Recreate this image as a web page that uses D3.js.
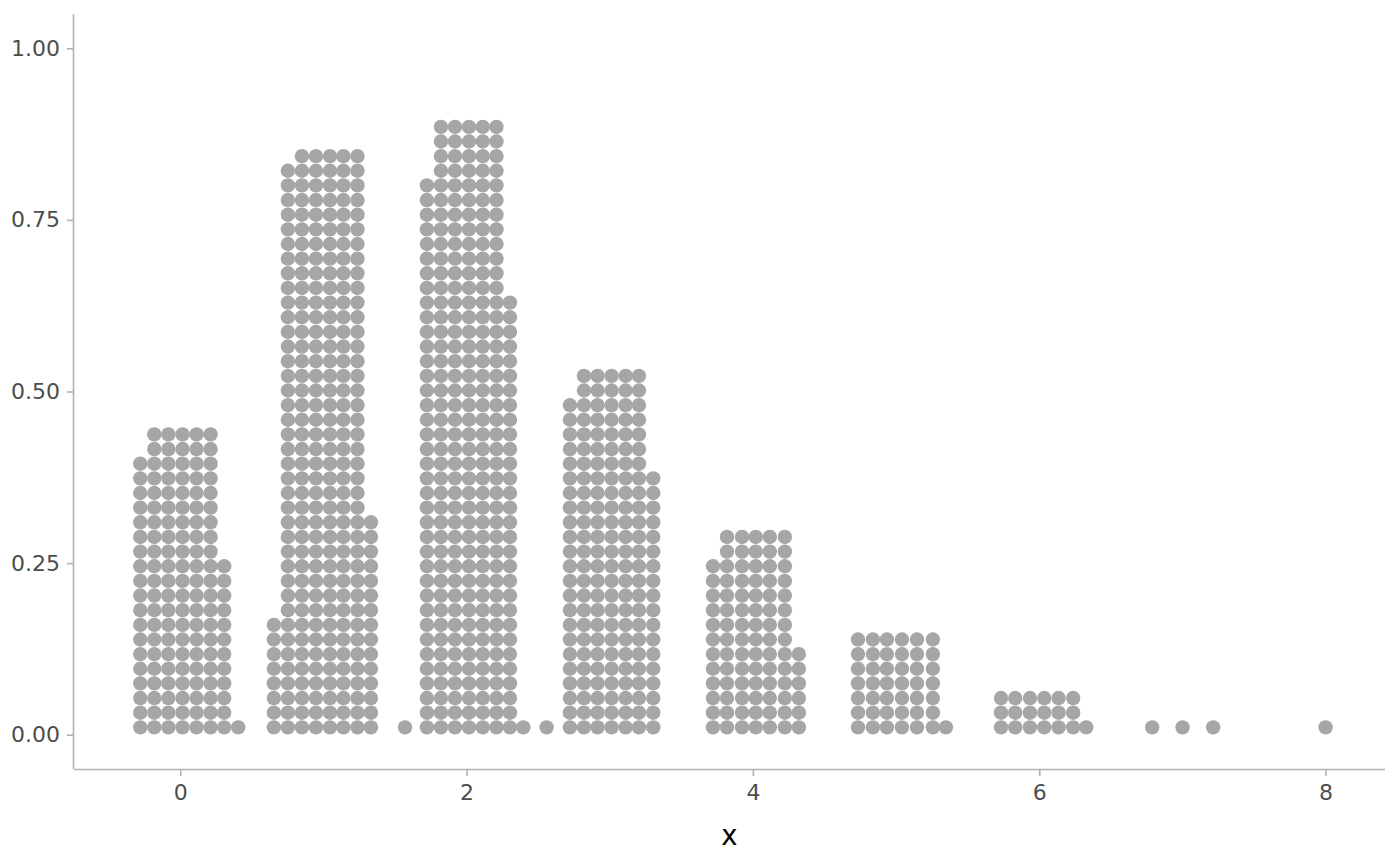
<!DOCTYPE html>
<html>
<head>
<meta charset="utf-8">
<script src="https://cdn.jsdelivr.net/npm/d3@7"></script>
<style>
  body { margin: 0; background: #fff; }
</style>
</head>
<body>
<div class="dots_chart"></div>
<script>
// bin centres (x) and how many dots are stacked in each bin
const binX = [
  -0.279, -0.181, -0.083, 0.016, 0.114, 0.212, 0.307, 0.405,
  0.654, 0.752, 0.850, 0.948, 1.046, 1.140, 1.238, 1.332, 1.570,
  1.723, 1.821, 1.919, 2.017, 2.113, 2.209, 2.303, 2.396, 2.559,
  2.722, 2.820, 2.915, 3.013, 3.111, 3.204, 3.304,
  3.721, 3.819, 3.924, 4.020, 4.118, 4.223, 4.321,
  4.734, 4.838, 4.936, 5.041, 5.146, 5.257, 5.348,
  5.733, 5.832, 5.935, 6.035, 6.135, 6.237, 6.328,
  6.789, 7.001, 7.215, 8.000
];
const binCount = [
  19, 21, 21, 21, 21, 21, 12, 1,
  8, 39, 40, 40, 40, 40, 40, 15, 1,
  38, 42, 42, 42, 42, 42, 30, 1, 1,
  23, 25, 25, 25, 25, 25, 18,
  12, 14, 14, 14, 14, 14, 6,
  7, 7, 7, 7, 7, 7, 1,
  3, 3, 3, 3, 3, 3, 1,
  1, 1, 1, 1
];
const xTicks = [0, 2, 4, 6, 8];
const yTicks = [0, 0.25, 0.5, 0.75, 1];

function DotsChart({
  width = 1400,
  height = 866,
  marginLeft = 74,
  marginRight = 15,
  marginTop = 14,
  marginBottom = 97,
  xDomain = [-0.742, 8.415],
  yDomain = [-0.05, 1.05],
  stackStep = 0.02134, // height of one dot in y units
  radius = 7.2,
  fill = "#a6a6a6",
  axisColor = "#b3b3b3",
  textColor = "#4d4d4d",
} = {}) {
  const x = d3.scaleLinear(xDomain, [marginLeft, width - marginRight]);
  const y = d3.scaleLinear(yDomain, [height - marginBottom, marginTop]);

  // one record per dot
  const dots = [];
  binX.forEach((bx, i) => {
    d3.range(binCount[i]).forEach(k => {
      dots.push({ x: bx, y: (k + 0.5) * stackStep });
    });
  });

  const svg = d3.select(".dots_chart").append("svg")
    .attr("width", width)
    .attr("height", height)
    .attr("viewBox", [0, 0, width, height])
    .style("font-family", "DejaVu Sans, sans-serif");

  svg.append("g")
    .attr("fill", fill)
    .selectAll("circle")
    .data(dots)
    .join("circle")
    .attr("cx", d => x(d.x))
    .attr("cy", d => y(d.y))
    .attr("r", radius);

  const xAxis = svg.append("g")
    .attr("transform", `translate(0,${height - marginBottom})`)
    .call(d3.axisBottom(x).tickValues(xTicks).tickSize(7).tickPadding(8)
      .tickFormat(d3.format("d")));
  xAxis.select(".domain").attr("stroke", axisColor).attr("stroke-width", 1.6)
    .attr("d", `M${marginLeft},0.5H${width - marginRight}`);
  xAxis.selectAll(".tick line").attr("stroke", axisColor).attr("stroke-width", 1.6);
  xAxis.selectAll(".tick text").attr("fill", textColor).attr("font-size", 22)
    .attr("font-family", "DejaVu Sans, sans-serif");

  const yAxis = svg.append("g")
    .attr("transform", `translate(${marginLeft},0)`)
    .call(d3.axisLeft(y).tickValues(yTicks).tickSize(7).tickPadding(7)
      .tickFormat(d3.format(".2f")));
  yAxis.select(".domain").attr("stroke", axisColor).attr("stroke-width", 1.6)
    .attr("d", `M-0.5,${marginTop}V${height - marginBottom}`);
  yAxis.selectAll(".tick line").attr("stroke", axisColor).attr("stroke-width", 1.6);
  yAxis.selectAll(".tick text").attr("fill", textColor).attr("font-size", 22)
    .attr("font-family", "DejaVu Sans, sans-serif");

  svg.append("text")
    .attr("x", (marginLeft + width - marginRight) / 2)
    .attr("y", 845)
    .attr("text-anchor", "middle")
    .attr("font-size", 27.5)
    .attr("fill", "#000")
    .text("x");

  return svg.node();
}

DotsChart();
</script>
</body>
</html>
